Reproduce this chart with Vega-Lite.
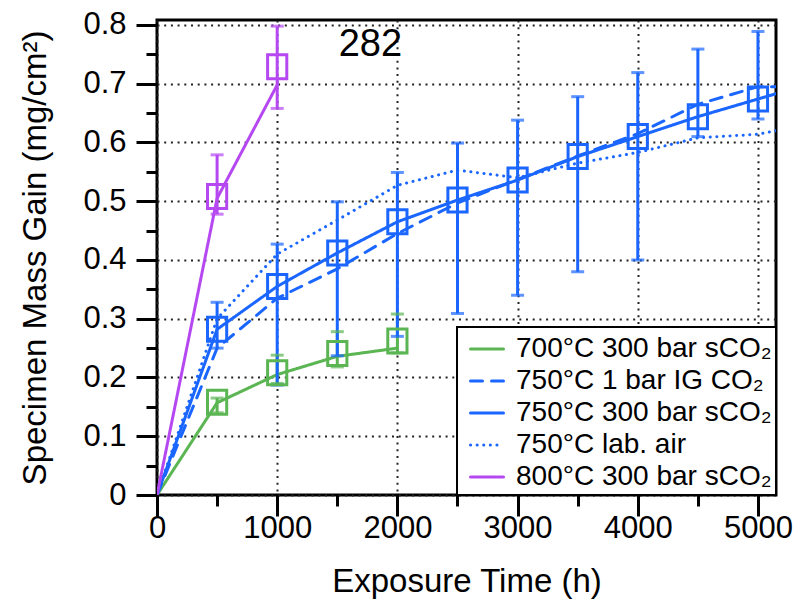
{
  "$schema": "https://vega.github.io/schema/vega-lite/v6.json",
  "width": 619,
  "height": 475,
  "autosize": {"type": "none"},
  "padding": {"left": 157, "top": 20, "right": 21, "bottom": 117},
  "background": "white",
  "config": {
    "font": "Liberation Sans",
    "view": {"stroke": "black", "strokeWidth": 3},
    "axis": {
      "labelFont": "Liberation Sans",
      "labelFontSize": 31,
      "labelColor": "black",
      "labelFlush": false,
      "titleFont": "Liberation Sans",
      "titleFontSize": 33,
      "titleFontWeight": "normal",
      "titleColor": "black",
      "tickColor": "black",
      "tickWidth": 3,
      "domain": false,
      "gridColor": "#222222",
      "gridDash": [2, 4.7],
      "gridWidth": 2
    },
    "legend": {
      "labelFont": "Liberation Sans",
      "labelFontSize": 28,
      "labelColor": "black",
      "labelLimit": 500
    }
  },
  "datasets": {
    "lines": [
      {"series": "700°C 300 bar sCO₂", "t": 0, "v": 0},
      {"series": "700°C 300 bar sCO₂", "t": 500, "v": 0.157},
      {"series": "700°C 300 bar sCO₂", "t": 1000, "v": 0.205},
      {"series": "700°C 300 bar sCO₂", "t": 1500, "v": 0.236},
      {"series": "700°C 300 bar sCO₂", "t": 2000, "v": 0.25},
      {"series": "750°C 1 bar IG CO₂", "t": 0, "v": 0},
      {"series": "750°C 1 bar IG CO₂", "t": 500, "v": 0.25},
      {"series": "750°C 1 bar IG CO₂", "t": 1000, "v": 0.335},
      {"series": "750°C 1 bar IG CO₂", "t": 1500, "v": 0.385},
      {"series": "750°C 1 bar IG CO₂", "t": 2000, "v": 0.445},
      {"series": "750°C 1 bar IG CO₂", "t": 2500, "v": 0.497},
      {"series": "750°C 1 bar IG CO₂", "t": 3000, "v": 0.537},
      {"series": "750°C 1 bar IG CO₂", "t": 3500, "v": 0.577},
      {"series": "750°C 1 bar IG CO₂", "t": 4000, "v": 0.615},
      {"series": "750°C 1 bar IG CO₂", "t": 4500, "v": 0.665},
      {"series": "750°C 1 bar IG CO₂", "t": 5000, "v": 0.695},
      {"series": "750°C 1 bar IG CO₂", "t": 5150, "v": 0.695},
      {"series": "750°C 300 bar sCO₂", "t": 0, "v": 0},
      {"series": "750°C 300 bar sCO₂", "t": 500, "v": 0.282},
      {"series": "750°C 300 bar sCO₂", "t": 1000, "v": 0.355},
      {"series": "750°C 300 bar sCO₂", "t": 1500, "v": 0.412},
      {"series": "750°C 300 bar sCO₂", "t": 2000, "v": 0.465},
      {"series": "750°C 300 bar sCO₂", "t": 2500, "v": 0.502},
      {"series": "750°C 300 bar sCO₂", "t": 3000, "v": 0.536},
      {"series": "750°C 300 bar sCO₂", "t": 3500, "v": 0.576},
      {"series": "750°C 300 bar sCO₂", "t": 4000, "v": 0.61},
      {"series": "750°C 300 bar sCO₂", "t": 4500, "v": 0.644},
      {"series": "750°C 300 bar sCO₂", "t": 5000, "v": 0.674},
      {"series": "750°C 300 bar sCO₂", "t": 5150, "v": 0.683},
      {"series": "750°C lab. air", "t": 0, "v": 0},
      {"series": "750°C lab. air", "t": 500, "v": 0.3},
      {"series": "750°C lab. air", "t": 1000, "v": 0.41},
      {"series": "750°C lab. air", "t": 1500, "v": 0.468},
      {"series": "750°C lab. air", "t": 2000, "v": 0.527},
      {"series": "750°C lab. air", "t": 2500, "v": 0.553},
      {"series": "750°C lab. air", "t": 3000, "v": 0.54},
      {"series": "750°C lab. air", "t": 3500, "v": 0.565},
      {"series": "750°C lab. air", "t": 4000, "v": 0.583},
      {"series": "750°C lab. air", "t": 4500, "v": 0.608},
      {"series": "750°C lab. air", "t": 5000, "v": 0.614},
      {"series": "750°C lab. air", "t": 5150, "v": 0.62},
      {"series": "800°C 300 bar sCO₂", "t": 0, "v": 0},
      {"series": "800°C 300 bar sCO₂", "t": 500, "v": 0.505},
      {"series": "800°C 300 bar sCO₂", "t": 1000, "v": 0.698}
    ],
    "points": [
      {"series": "700°C 300 bar sCO₂", "t": 500, "v": 0.158, "lo": 0.14, "hi": 0.165},
      {"series": "700°C 300 bar sCO₂", "t": 1000, "v": 0.208, "lo": 0.19, "hi": 0.238},
      {"series": "700°C 300 bar sCO₂", "t": 1500, "v": 0.241, "lo": 0.218, "hi": 0.278},
      {"series": "700°C 300 bar sCO₂", "t": 2000, "v": 0.262, "lo": 0.242, "hi": 0.308},
      {"series": "750°C 300 bar sCO₂", "t": 500, "v": 0.282, "lo": 0.25, "hi": 0.328},
      {"series": "750°C 300 bar sCO₂", "t": 1000, "v": 0.355, "lo": 0.187, "hi": 0.427},
      {"series": "750°C 300 bar sCO₂", "t": 1500, "v": 0.412, "lo": 0.237, "hi": 0.499},
      {"series": "750°C 300 bar sCO₂", "t": 2000, "v": 0.465, "lo": 0.27, "hi": 0.549},
      {"series": "750°C 300 bar sCO₂", "t": 2500, "v": 0.502, "lo": 0.309, "hi": 0.599},
      {"series": "750°C 300 bar sCO₂", "t": 3000, "v": 0.536, "lo": 0.34, "hi": 0.638},
      {"series": "750°C 300 bar sCO₂", "t": 3500, "v": 0.576, "lo": 0.38, "hi": 0.678},
      {"series": "750°C 300 bar sCO₂", "t": 4000, "v": 0.61, "lo": 0.4, "hi": 0.719},
      {"series": "750°C 300 bar sCO₂", "t": 4500, "v": 0.644, "lo": 0.61, "hi": 0.759},
      {"series": "750°C 300 bar sCO₂", "t": 5000, "v": 0.674, "lo": 0.64, "hi": 0.789},
      {"series": "800°C 300 bar sCO₂", "t": 500, "v": 0.508, "lo": 0.478, "hi": 0.579},
      {"series": "800°C 300 bar sCO₂", "t": 1000, "v": 0.729, "lo": 0.658, "hi": 0.798}
    ],
    "note": [
      {"label": "282", "t": 1775, "v": 0.766}
    ]
  },
  "resolve": {"axis": {"x": "independent", "y": "independent"}},
  "layer": [
    {
      "data": {"name": "lines"},
      "mark": {"type": "line", "strokeCap": "round", "clip": true},
      "encoding": {
        "x": {
          "field": "t", "type": "quantitative",
          "scale": {"domain": [0, 5150], "nice": false, "zero": true},
          "axis": {
            "title": "Exposure Time (h)",
            "values": [0, 1000, 2000, 3000, 4000, 5000],
            "format": "d",
            "tickSize": 21,
            "labelPadding": -3,
            "titlePadding": 22,
            "grid": true,
            "orient": "bottom"
          }
        },
        "y": {
          "field": "v", "type": "quantitative",
          "scale": {"domain": [0, 0.8085], "nice": false},
          "axis": {
            "title": "Specimen Mass Gain (mg/cm²)",
            "values": [0, 0.1, 0.2, 0.3, 0.4, 0.5, 0.6, 0.7, 0.8],
            "labelExpr": "datum.value == 0 ? '0' : format(datum.value, '.1f')",
            "tickSize": 21,
            "labelPadding": 10,
            "titlePadding": 30,
            "grid": true,
            "orient": "left"
          }
        },
        "color": {
          "field": "series", "type": "nominal",
          "scale": {
            "domain": ["700°C 300 bar sCO₂", "750°C 1 bar IG CO₂", "750°C 300 bar sCO₂", "750°C lab. air", "800°C 300 bar sCO₂"],
            "range": ["#5ab552", "#1a66ff", "#1a66ff", "#1a66ff", "#b648f2"]
          },
          "legend": {
            "title": null,
            "orient": "bottom-right",
            "offset": 0,
            "padding": 4,
            "symbolOffset": 8,
            "rowPadding": 0,
            "labelOffset": 11,
            "fillColor": "white",
            "strokeColor": "black",
            "symbolType": "stroke",
            "symbolSize": 1089,
            "encode": {
              "legend": {"update": {"strokeWidth": {"value": 2}}},
              "symbols": {"update": {"strokeCap": {"value": "round"}}}
            }
          }
        },
        "strokeDash": {
          "field": "series", "type": "nominal",
          "scale": {
            "domain": ["700°C 300 bar sCO₂", "750°C 1 bar IG CO₂", "750°C 300 bar sCO₂", "750°C lab. air", "800°C 300 bar sCO₂"],
            "range": [[1, 0], [12, 9], [1, 0], [0.1, 6.5], [1, 0]]
          },
          "legend": {
            "title": null,
            "orient": "bottom-right",
            "offset": 0,
            "padding": 4,
            "symbolOffset": 8,
            "rowPadding": 0,
            "labelOffset": 11,
            "fillColor": "white",
            "strokeColor": "black",
            "symbolType": "stroke",
            "symbolSize": 1089,
            "encode": {
              "legend": {"update": {"strokeWidth": {"value": 2}}},
              "symbols": {"update": {"strokeCap": {"value": "round"}}}
            }
          }
        },
        "strokeWidth": {
          "field": "series", "type": "nominal",
          "scale": {
            "domain": ["700°C 300 bar sCO₂", "750°C 1 bar IG CO₂", "750°C 300 bar sCO₂", "750°C lab. air", "800°C 300 bar sCO₂"],
            "range": [3, 3, 3, 4.2, 3]
          },
          "legend": {
            "title": null,
            "orient": "bottom-right",
            "offset": 0,
            "padding": 4,
            "symbolOffset": 8,
            "rowPadding": 0,
            "labelOffset": 11,
            "fillColor": "white",
            "strokeColor": "black",
            "symbolType": "stroke",
            "symbolSize": 1089,
            "encode": {
              "legend": {"update": {"strokeWidth": {"value": 2}}},
              "symbols": {"update": {"strokeCap": {"value": "round"}}}
            }
          }
        }
      }
    },
    {
      "data": {"name": "points"},
      "mark": {"type": "rule", "strokeWidth": 3},
      "encoding": {
        "x": {
          "field": "t", "type": "quantitative",
          "axis": {
            "title": null,
            "values": [500, 1500, 2500, 3500, 4500],
            "labels": false,
            "tickSize": 11,
            "grid": false,
            "orient": "bottom"
          }
        },
        "y": {
          "field": "lo", "type": "quantitative",
          "axis": {
            "title": null,
            "values": [0.05, 0.15, 0.25, 0.35, 0.45, 0.55, 0.65, 0.75],
            "labels": false,
            "tickSize": 11,
            "grid": false,
            "orient": "left"
          }
        },
        "y2": {"field": "hi"},
        "color": {"field": "series", "type": "nominal", "legend": null}
      }
    },
    {
      "data": {"name": "points"},
      "mark": {"type": "tick", "orient": "horizontal", "size": 13, "thickness": 3},
      "encoding": {
        "x": {"field": "t", "type": "quantitative", "axis": null},
        "y": {"field": "hi", "type": "quantitative", "axis": null},
        "color": {"field": "series", "type": "nominal", "legend": null}
      }
    },
    {
      "data": {"name": "points"},
      "mark": {"type": "tick", "orient": "horizontal", "size": 13, "thickness": 3},
      "encoding": {
        "x": {"field": "t", "type": "quantitative", "axis": null},
        "y": {"field": "lo", "type": "quantitative", "axis": null},
        "color": {"field": "series", "type": "nominal", "legend": null}
      }
    },
    {
      "data": {"name": "points"},
      "mark": {"type": "point", "shape": "M-0.8,-1H0.8V1H-0.8Z", "filled": false, "strokeWidth": 3, "size": 576, "opacity": 1},
      "encoding": {
        "x": {"field": "t", "type": "quantitative", "axis": null},
        "y": {"field": "v", "type": "quantitative", "axis": null},
        "color": {"field": "series", "type": "nominal", "legend": null}
      }
    },
    {
      "data": {"name": "note"},
      "mark": {"type": "text", "fontSize": 38, "font": "Liberation Sans", "color": "black", "align": "center", "baseline": "middle"},
      "encoding": {
        "x": {"field": "t", "type": "quantitative", "axis": null},
        "y": {"field": "v", "type": "quantitative", "axis": null},
        "text": {"field": "label"}
      }
    }
  ]
}
